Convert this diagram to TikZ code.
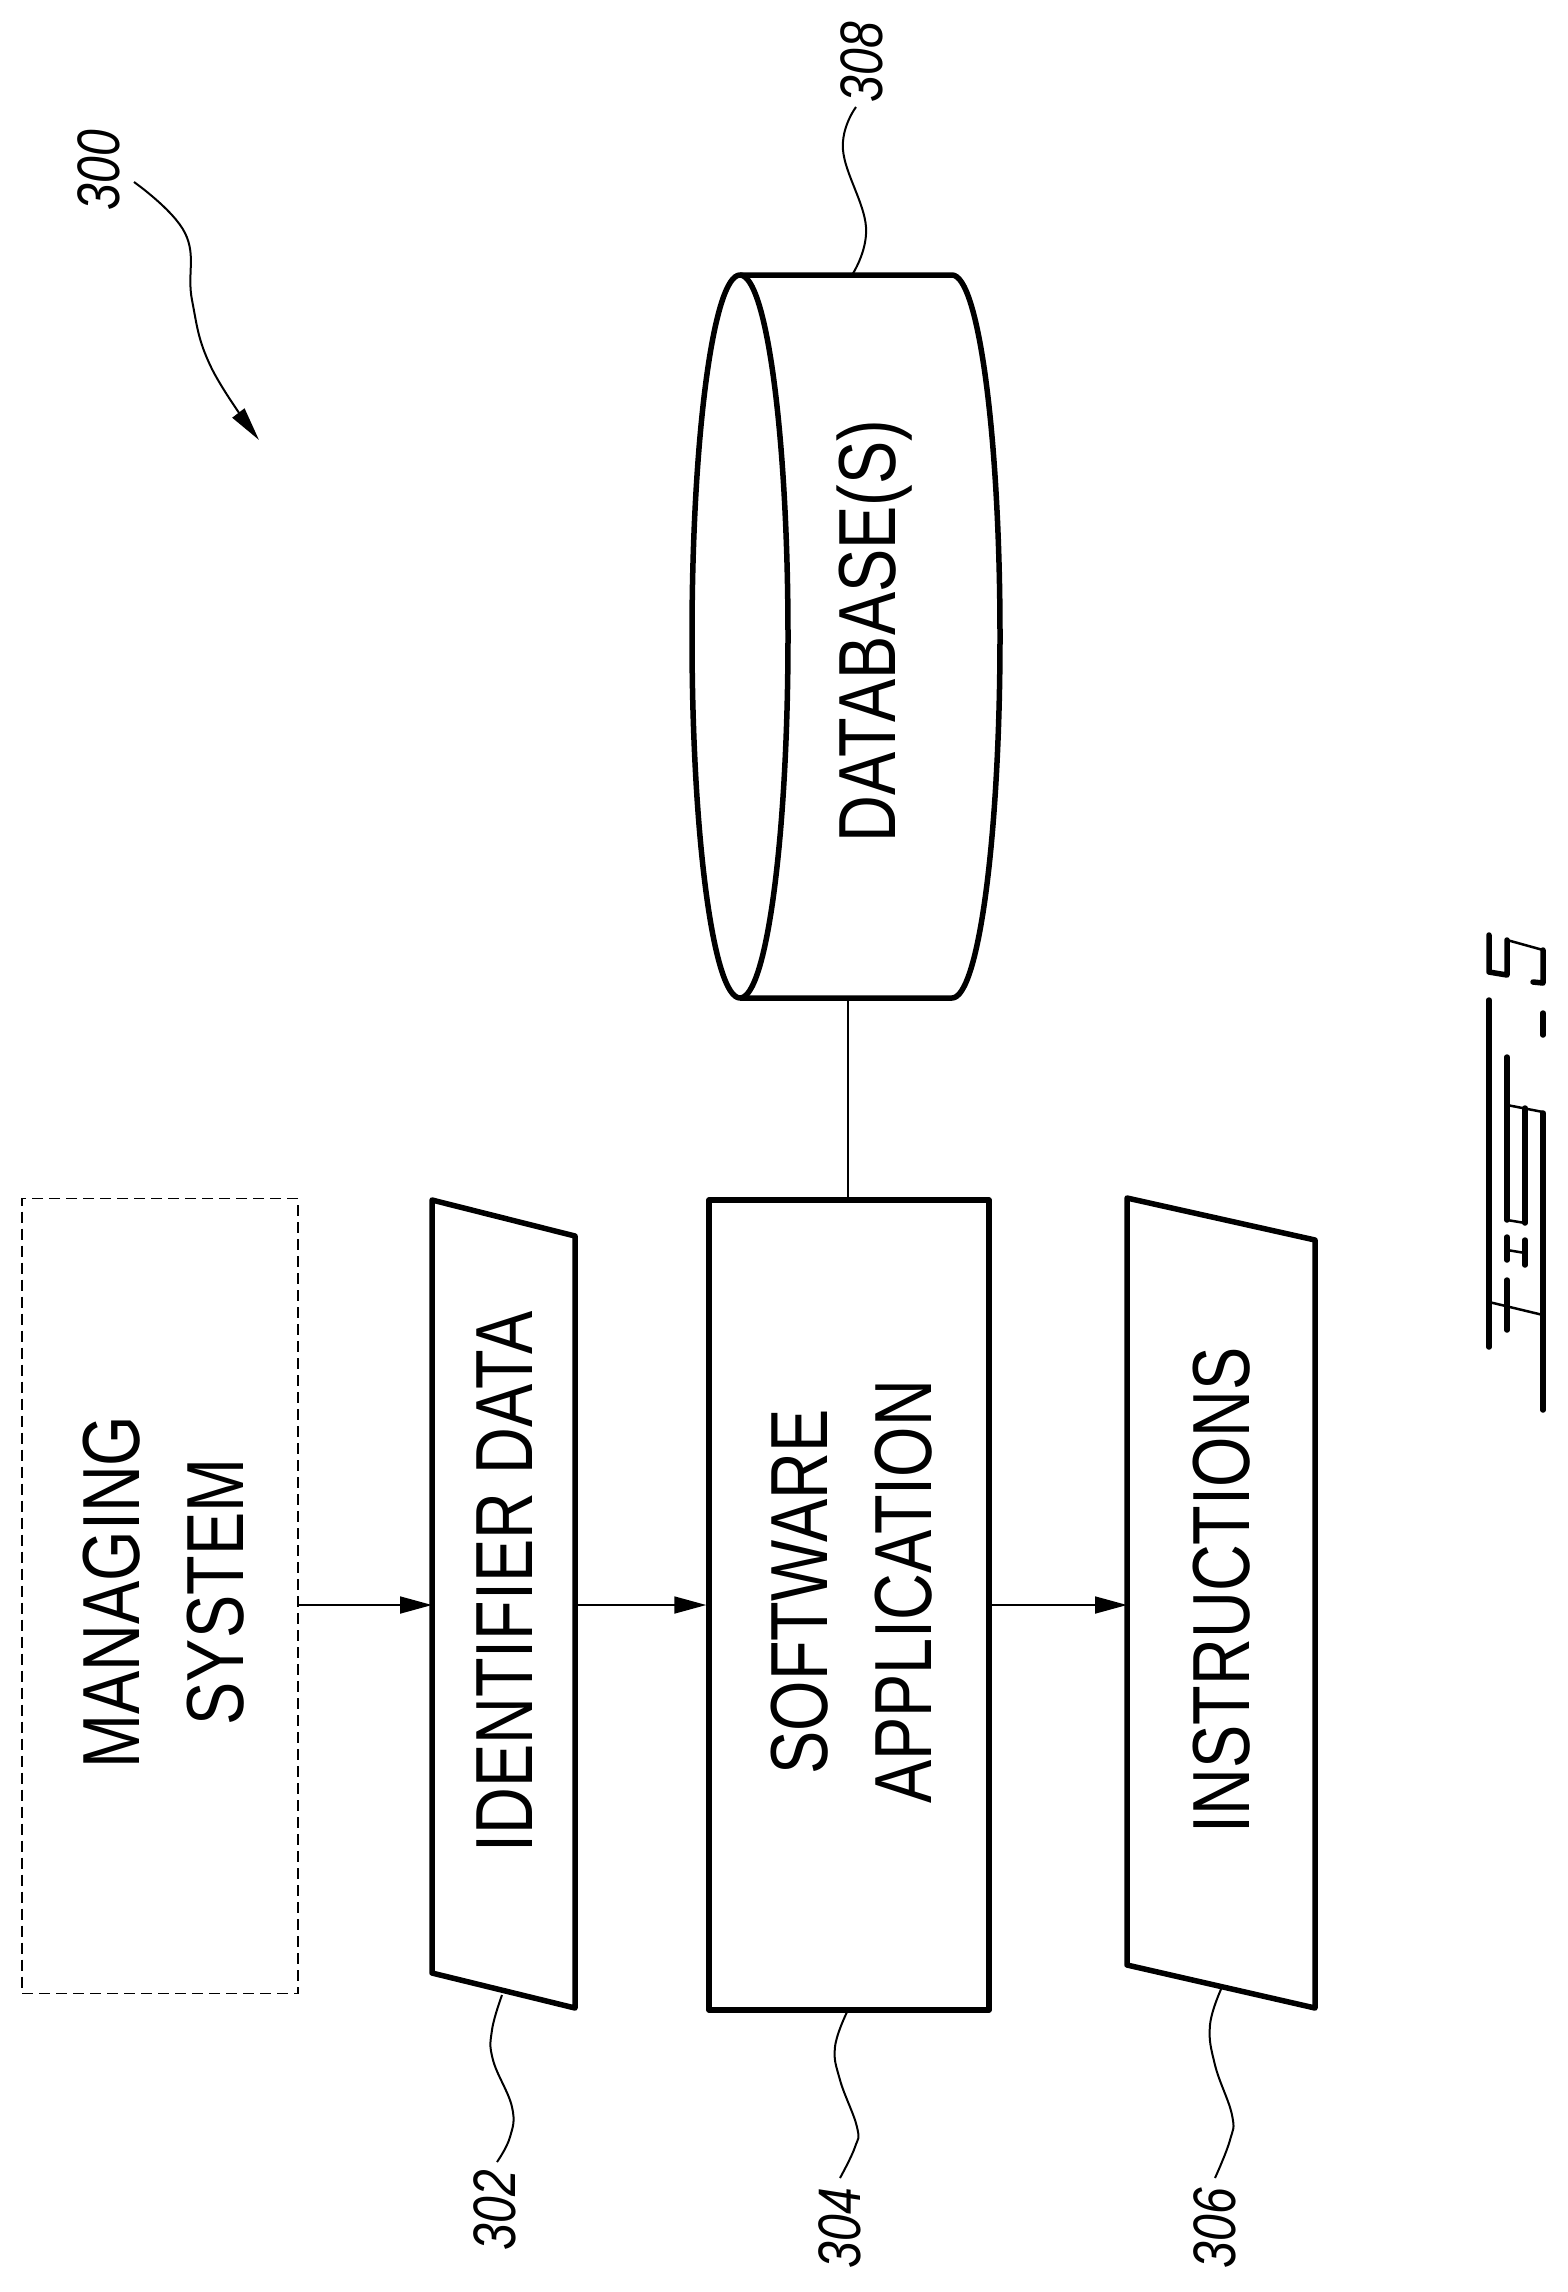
\documentclass[tikz,border=0pt]{standalone}
\usepackage{fontspec}
\setmainfont{Liberation Sans}[FakeStretch=0.8]
\usetikzlibrary{arrows.meta}
\begin{document}
\begin{tikzpicture}[x=1pt,y=-1pt,
  box/.style={draw,line width=5.5pt,line join=round},
  lbl/.style={font=\fontsize{81}{104}\selectfont,rotate=90,align=center,inner sep=0pt},
  num/.style={font=\fontsize{60}{70}\selectfont\itshape,rotate=90,inner sep=0pt},
  lead/.style={line width=2pt},
  arr/.style={line width=1.8pt,-{Triangle[length=32pt,width=17pt]}},
  glyph/.style={line width=5.5pt,line cap=round,line join=round},
  gthin/.style={line width=2.5pt}]
\useasboundingbox (0,0) rectangle (1567,2292);
% managing system
\node[draw,dashed,line width=1.8pt,dash pattern=on 11pt off 6pt,minimum width=276pt,minimum height=795pt,inner sep=0pt] (mng) at (160,1596) {};
\node[lbl] (mngt) at (164,1592) {MANAGING\\SYSTEM};
% identifier data
\coordinate (idtl) at (432,1200); \coordinate (idtr) at (575,1236);
\coordinate (idbr) at (575,2008); \coordinate (idbl) at (432,1973);
\draw[box] (idtl) -- (idtr) -- (idbr) -- (idbl) -- cycle;
\node[lbl] (idt) at (505,1582) {IDENTIFIER DATA};
% software application
\node[box,minimum width=280pt,minimum height=810pt,inner sep=0pt] (sw) at (849,1605) {};
\node[lbl] (swt) at (852,1592) {SOFTWARE\\APPLICATION};
% instructions
\coordinate (intl) at (1127,1198); \coordinate (intr) at (1315,1240);
\coordinate (inbr) at (1315,2008); \coordinate (inbl) at (1127,1965);
\draw[box] (intl) -- (intr) -- (inbr) -- (inbl) -- cycle;
\node[lbl] (int) at (1222,1590) {INSTRUCTIONS};
% database
\draw[box] (740,275) .. controls (713.5,275) and (692,436.8) .. (692,636.5)
  .. controls (692,836.2) and (713.5,998) .. (740,998)
  .. controls (766.5,998) and (788,836.2) .. (788,636.5)
  .. controls (788,436.8) and (766.5,275) .. (740,275) -- cycle;
\draw[box] (740,275) -- (952,275) .. controls (978.5,275) and (1000,436.8) .. (1000,636.5)
  .. controls (1000,836.2) and (978.5,998) .. (952,998) -- (740,998);
\coordinate (dbtop) at (852,275);
\coordinate (dbbot) at (848,998);
\node[lbl] (dbt) at (875,631) {DATABASE(S)};
% connectors
\coordinate (idin) at (432,1605); \coordinate (idout) at (575,1605);
\coordinate (inin) at (1127,1605);
\draw[arr] (mng.east |- idin) -- (idin);
\draw[arr] (idout) -- (sw.west);
\draw[arr] (sw.east) -- (inin);
\draw[line width=1.8pt] (sw.north -| dbbot) -- (dbbot);
% reference numerals
\node[num] (n300) at (99,170) {300};
\coordinate (a300s) at (134,182); \coordinate (a300e) at (259,440);
\draw[lead,-{Triangle[length=34pt,width=15pt]}] plot[smooth,tension=0.7] coordinates {(a300s) (185,233) (192,300) (211,367) (a300e)};
\node[num] (n308) at (862,62) {308};
\draw[lead] plot[smooth,tension=0.7] coordinates {(856,107) (843,150) (866,227) (dbtop)};
\node[num] (n302) at (495,2210) {302};
\draw[lead] plot[smooth,tension=0.7] coordinates {(502,1995) (492,2030) (493,2060) (512,2107) (510,2137) (497,2162)};
\node[num] (n304) at (840,2228) {304};
\draw[lead] plot[smooth,tension=0.7] coordinates {(847,2012) (835,2047) (840,2080) (857,2127) (855,2147) (840,2178)};
\node[num] (n306) at (1215,2228) {306};
\draw[lead] plot[smooth,tension=0.7] coordinates {(1222,1987) (1210,2025) (1215,2065) (1232,2115) (1230,2140) (1215,2178)};
% figure label glyph
\draw[glyph] (1489,1000) -- (1489,1347);
\draw[glyph] (1543,1113) -- (1543,1410);
\draw[glyph] (1489,935) -- (1489,972) -- (1507,975) -- (1507,940);
\draw[gthin] (1507,940) -- (1543,950);
\draw[glyph] (1543,950) -- (1543,983) -- (1533,982);
\draw[glyph] (1543,1013) -- (1543,1035);
\draw[glyph] (1507,1057) -- (1507,1220);
\draw[gthin] (1507,1105) -- (1543,1112);
\draw[glyph] (1525,1108) -- (1525,1223);
\draw[gthin] (1507,1220) -- (1525,1223);
\draw[glyph] (1507,1237) -- (1507,1260);
\draw[glyph] (1525,1240) -- (1525,1265);
\draw[gthin] (1507,1250) -- (1525,1253);
\draw[glyph] (1507,1280) -- (1507,1330);
\draw[gthin] (1489,1302) -- (1543,1315);
\end{tikzpicture}
\end{document}
